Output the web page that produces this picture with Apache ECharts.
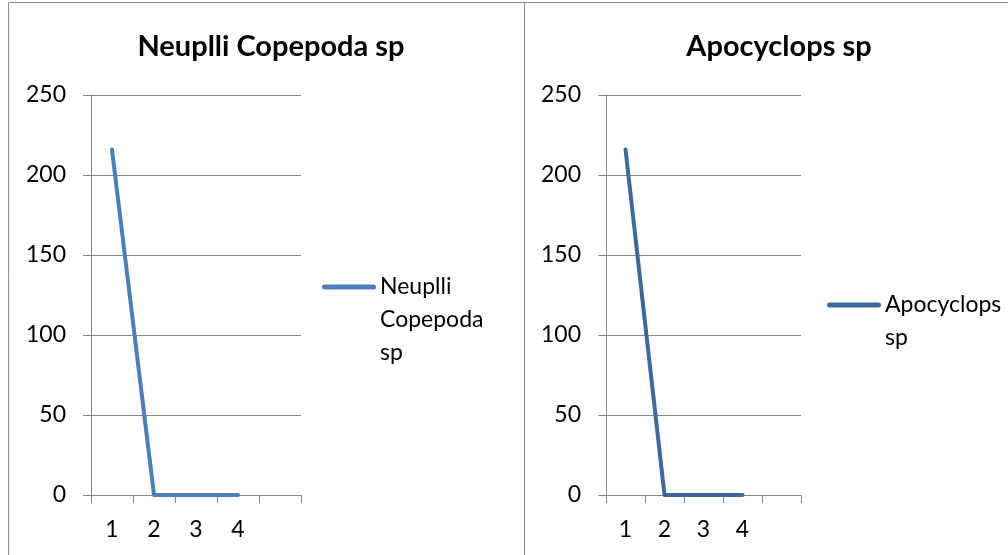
<!DOCTYPE html>
<html>
<head>
<meta charset="utf-8">
<script src="https://cdn.jsdelivr.net/npm/echarts@6/dist/echarts.min.js"></script>
<style>
  html, body { margin: 0; padding: 0; background: #fff; }
  #chart { width: 1008px; height: 555px; }
</style>
</head>
<body>
<div id="chart"></div>
<script>
// Sample numbers along the x axis (last slot left blank, as in the workbook)
const categories = ['1', '2', '3', '4', ''];
const yTicks = [0, 50, 100, 150, 200, 250];

const neupliiName = 'Neuplli Copepoda sp';
const neupliiValues = [216, 0, 0, 0];

const apocyclopsName = 'Apocyclops sp';
const apocyclopsValues = [216, 0, 0, 0];

const FONT = 'Lato, "Open Sans", sans-serif';
const AXIS_GRAY = '#868686';
const BODY_SIZE = 23;

// Thick rounded bar used as the legend swatch
const LINE_ICON = 'path://M2.5,0 L51.5,0 A2.5,2.5 0 0 1 51.5,5 L2.5,5 A2.5,2.5 0 0 1 2.5,0 Z';

function xAxisFor(gridIndex) {
  return {
    type: 'category', gridIndex, data: categories, boundaryGap: true,
    axisLine: { lineStyle: { color: AXIS_GRAY, width: 1 } },
    axisTick: { show: true, length: 8, lineStyle: { color: AXIS_GRAY } },
    axisLabel: { color: '#000', fontFamily: FONT, fontSize: BODY_SIZE, margin: 23 },
    splitLine: { show: false }
  };
}

function yAxisFor(gridIndex) {
  return {
    type: 'value', gridIndex, min: yTicks[0], max: yTicks[yTicks.length - 1],
    interval: yTicks[1] - yTicks[0],
    axisLine: { show: true, lineStyle: { color: AXIS_GRAY, width: 1 } },
    axisTick: { show: true, length: 8, lineStyle: { color: AXIS_GRAY } },
    axisLabel: { color: '#000', fontFamily: FONT, fontSize: BODY_SIZE, margin: 25 },
    splitLine: { show: true, lineStyle: { color: AXIS_GRAY, width: 1 } }
  };
}

function lineSeries(name, values, idx, color) {
  return {
    name, type: 'line', xAxisIndex: idx, yAxisIndex: idx, data: values,
    symbol: 'none', animation: false,
    lineStyle: { color, width: 4, cap: 'round', join: 'round' },
    itemStyle: { color }
  };
}

// Legend text wraps below the swatch: leading blank lines keep the first
// line level with the swatch, since legend text is centred on it.
function legendFor(name, lines, left, swatchY) {
  const blank = lines.length - 1;
  const text = '\n'.repeat(blank) + lines.join('\n');
  const lineH = 33;
  const total = (blank + lines.length) * lineH;
  return {
    data: [name], left, top: swatchY - total / 2, padding: 0,
    itemWidth: 54, itemHeight: 5, itemGap: 0, icon: LINE_ICON,
    selectedMode: false,
    formatter: () => text,
    textStyle: { fontFamily: FONT, fontSize: BODY_SIZE, color: '#000', lineHeight: lineH, padding: [0, 0, 0, -1] }
  };
}

const chart = echarts.init(document.getElementById('chart'), null, { renderer: 'canvas' });
chart.setOption({
  backgroundColor: '#fff',
  animation: false,
  graphic: [
    { type: 'rect', shape: { x: 8.5, y: 2.5, width: 516, height: 600 },
      style: { fill: 'none', stroke: '#8c8c8c', lineWidth: 1 }, silent: true },
    { type: 'rect', shape: { x: 524.5, y: 2.5, width: 500, height: 600 },
      style: { fill: 'none', stroke: '#8c8c8c', lineWidth: 1 }, silent: true }
  ],
  title: [
    { text: neupliiName, left: 266, top: 27, textAlign: 'center',
      textStyle: { fontFamily: FONT, fontSize: 29, fontWeight: 'bold', color: '#000' } },
    { text: apocyclopsName, left: 774, top: 27, textAlign: 'center',
      textStyle: { fontFamily: FONT, fontSize: 29, fontWeight: 'bold', color: '#000' } }
  ],
  legend: [
    legendFor(neupliiName, ['Neuplli', 'Copepoda', 'sp'], 322, 287),
    legendFor(apocyclopsName, ['Apocyclops', 'sp'], 827, 305)
  ],
  grid: [
    { left: 91, top: 95, width: 210, height: 400, containLabel: false },
    { left: 606, top: 95, width: 195, height: 400, containLabel: false }
  ],
  xAxis: [xAxisFor(0), xAxisFor(1)],
  yAxis: [yAxisFor(0), yAxisFor(1)],
  series: [
    lineSeries(neupliiName, neupliiValues, 0, '#4A7EBB'),
    lineSeries(apocyclopsName, apocyclopsValues, 1, '#3D699E')
  ]
});
</script>
</body>
</html>
